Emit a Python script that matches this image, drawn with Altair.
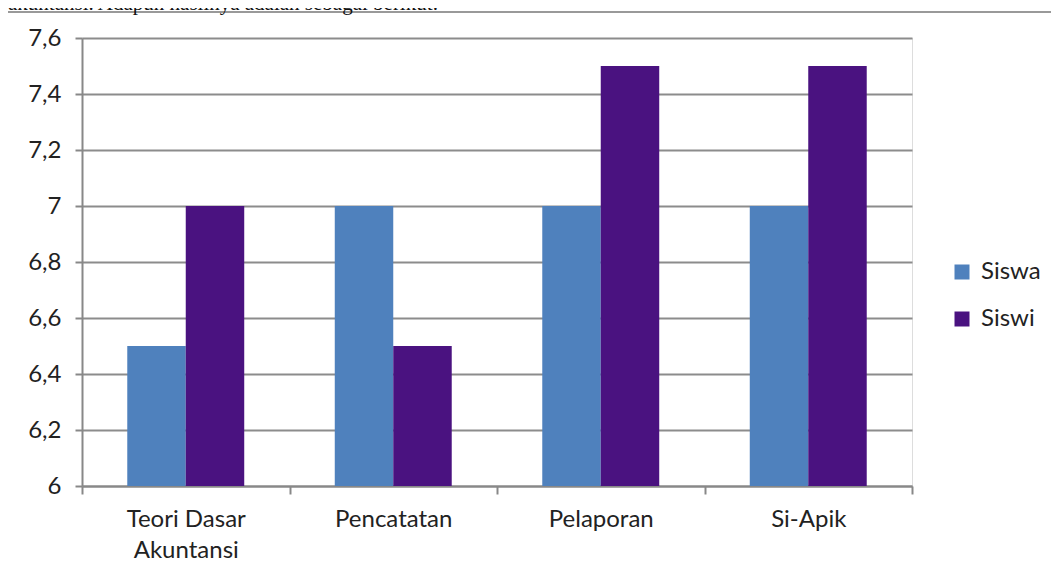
import altair as alt
import pandas as pd

categories = ["Teori Dasar\nAkuntansi", "Pencatatan", "Pelaporan", "Si-Apik"]
series = ["Siswa", "Siswi"]
siswa = [6.5, 7.0, 7.0, 7.0]
siswi = [7.0, 6.5, 7.5, 7.5]
y_ticks = [6.0, 6.2, 6.4, 6.6, 6.8, 7.0, 7.2, 7.4, 7.6]
heading = ["akuntansi. Adapun hasilnya adalah sebagai berikut:"]
colors = ["#4F81BD", "#4A1280"]

rows = []
for i, c in enumerate(categories):
    rows.append({"cat": c, "series": "Siswa", "value": siswa[i]})
    rows.append({"cat": c, "series": "Siswi", "value": siswi[i]})
df = pd.DataFrame(rows)

FONT = "Lato"
FS = 24
W, H = 830, 448

bars = alt.Chart(df).mark_bar(clip=True).encode(
    x=alt.X("cat:N", sort=categories, title=None,
            scale=alt.Scale(paddingInner=0, paddingOuter=0),
            axis=alt.Axis(labelExpr="split(datum.label, '\\n')", labelAngle=0,
                          tickBand="extent", tickSize=8, tickColor="#888888",
                          tickWidth=2, domainColor="#888888", domainWidth=2,
                          labelPadding=13, labelFontSize=FS, labelFont=FONT,
                          labelColor="#222222", labelLineHeight=31, grid=False)),
    xOffset=alt.XOffset("series:N", sort=series,
                        scale=alt.Scale(paddingInner=0, paddingOuter=0.774)),
    y=alt.Y("value:Q", title=None,
            scale=alt.Scale(domain=[6, 7.6], zero=False, nice=False),
            axis=alt.Axis(values=y_ticks,
                          labelExpr="replace(format(datum.value, '.1~f'), '.', ',')",
                          tickSize=7, tickColor="#888888", tickWidth=2,
                          domainColor="#888888", domainWidth=2,
                          gridColor="#8c8c8c", gridWidth=2,
                          labelPadding=14, labelFontSize=FS, labelFont=FONT,
                          labelColor="#222222")),
    color=alt.Color("series:N", sort=series, title=None,
                    scale=alt.Scale(domain=series, range=colors),
                    legend=alt.Legend(orient="none", legendX=868, legendY=222,
                                      symbolType="square", symbolSize=225,
                                      symbolStrokeWidth=0, labelFontSize=FS,
                                      labelFont=FONT, labelColor="#222222",
                                      rowPadding=23, labelOffset=7)),
)

frame = alt.Chart(pd.DataFrame({"t": heading})).mark_rect(
    fill=None, stroke="#999999", strokeWidth=2, clip=False
).encode(x=alt.value(-75), x2=alt.value(1000), y=alt.value(-26), y2=alt.value(600))

head = alt.Chart(pd.DataFrame({"t": heading})).mark_text(
    align="left", baseline="alphabetic", font="Liberation Serif", fontSize=21,
    color="#111111", clip=False
).encode(x=alt.value(-74), y=alt.value(-28), text="t:N")

chart = alt.layer(frame, bars, head).properties(
    width=W, height=H,
    autosize=alt.AutoSizeParams(type="none"),
    padding={"left": 74, "top": 30, "right": 139, "bottom": 84},
).configure_view(stroke=None).configure(background="white")

chart.save("out.html", embed_options={"renderer": "svg", "actions": False})
